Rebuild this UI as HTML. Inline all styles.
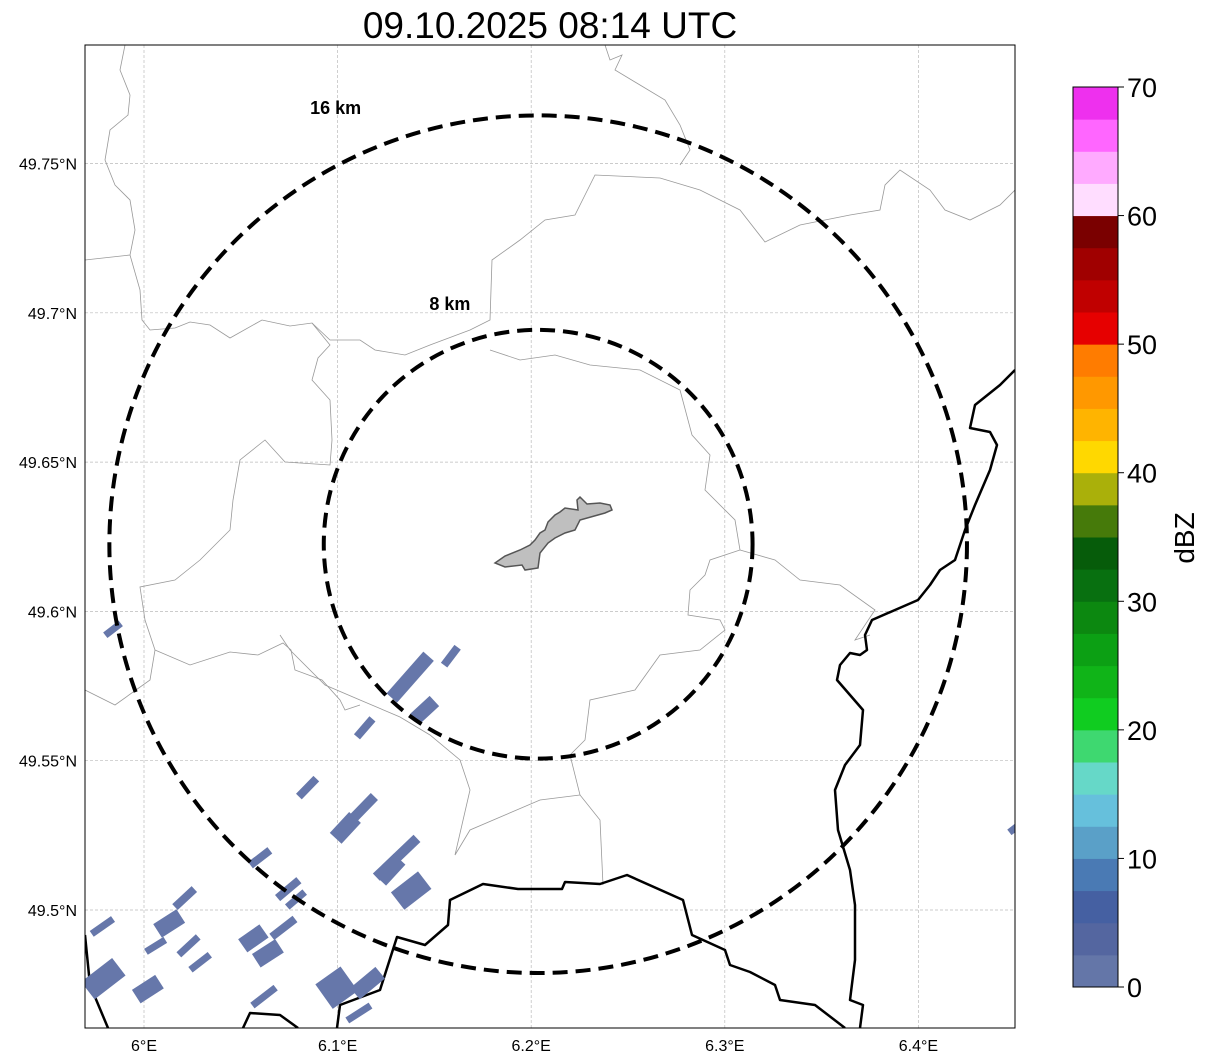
<!DOCTYPE html>
<html><head><meta charset="utf-8"><style>
body{margin:0;background:#fff;width:1207px;height:1064px;overflow:hidden;font-family:"Liberation Sans",sans-serif}
svg{position:absolute;left:0;top:0}
</style></head><body>
<svg id="chart" width="1207" height="1064">
<text x="550" y="38" font-size="37" text-anchor="middle" fill="#000">09.10.2025 08:14 UTC</text>
<defs><clipPath id="mapclip"><rect x="85" y="45" width="930" height="983"/></clipPath></defs>
<g id="grid"></g>
<g clip-path="url(#mapclip)">
<g fill="none" stroke="#999" stroke-width="0.8">
<polyline points="125,45 120,70 130,95 128,115 110,130 105,160 115,185 130,200 135,230 130,255 85,260"/>
<polyline points="130,255 140,290 142,320 150,330 175,328 190,322 210,325 230,338 262,320 290,326 312,323 330,345 318,358 312,380 330,400 332,440 330,465 285,462 265,440 240,460 233,500 230,530 200,560 175,580 140,587 145,620 155,650 150,680 115,705 85,690"/>
<polyline points="312,323 330,340 360,340 375,350 405,355 430,345 470,330 490,320 492,260 520,240 545,220 575,215 595,175 660,178 700,190 740,210 765,242 800,225 850,215 880,210 885,185 900,170 930,190 945,210 970,220 1000,205 1015,190"/>
<polyline points="605,45 610,60 622,55 615,70 640,85 665,100 680,125 690,150 680,165"/>
<polyline points="490,350 520,360 555,355 590,365 640,370 680,390 692,435 710,455 705,490 735,520 740,550 710,560 705,575 690,590 688,615 720,620 725,630 700,650 660,655 635,690 590,700 585,740 570,755 580,795 600,820 603,885"/>
<polyline points="580,795 540,800 505,815 470,830 455,855 470,790 460,760 430,735 400,717 360,700 325,685 290,650 280,635"/>
<polyline points="155,650 190,665 230,652 258,655 283,643 291,650 295,670 322,680 340,700 345,710 360,705"/>
<polyline points="740,550 775,560 800,580 840,585 875,610 855,640 870,635"/>
</g>
<polygon points="495,563 505,556 520,550 530,545 535,540 540,533 545,530 548,522 555,515 560,512 565,508 578,510 577,500 580,497 587,504 600,503 610,505 612,510 605,513 580,520 575,530 565,533 555,538 548,543 540,553 538,568 525,570 522,565 505,567" fill="#bfbfbf" stroke="#555" stroke-width="1.5"/>
<g fill="none" stroke="#000" stroke-width="2.5" stroke-linejoin="round">
<polyline points="243,1028 250,1013 280,1015 298,1028"/>
<polyline points="337,1028 340,1005 380,990 397,937 425,945 448,925 450,900 483,884 518,889 562,889 565,882 600,884 627,875 683,900 692,935 725,950 730,965 750,972 775,985 780,1000 815,1005 845,1028"/>
<polyline points="1015,370 1000,385 975,405 970,428 990,432 997,445 990,470 975,505 965,530 960,545 955,560 940,570 930,585 918,600 895,610 872,620 865,635 867,650 860,655 850,653 840,665 837,680 850,695 863,710 860,745 845,765 835,790 838,830 850,870 855,905 855,960 850,1000 863,1005 860,1028"/>
<polyline points="85,935 90,985 108,1028"/>
</g>
<g id="blobs"></g>
<g id="rings"></g>
</g>
<rect x="85" y="45" width="930" height="983" fill="none" stroke="#000" stroke-width="1"/>
<g id="ticks" font-size="16" fill="#000"></g>
<g id="cbar"></g>
<text transform="translate(1194,538) rotate(-90)" font-size="28" text-anchor="middle">dBZ</text>
</svg>
<script>
const NS='http://www.w3.org/2000/svg';
const lonTicks=[6.0,6.1,6.2,6.3,6.4];
const lonLabels=['6°E','6.1°E','6.2°E','6.3°E','6.4°E'];
const latTicks=[49.5,49.55,49.6,49.65,49.7,49.75];
const latLabels=['49.5°N','49.55°N','49.6°N','49.65°N','49.7°N','49.75°N'];
const ringKm=[8,16];
const ringLabels=['8 km','16 km'];
const ringLabelLon=[6.158,6.099];
const ringLabelLat=[49.701,49.7665];
const centerLon=6.2036, centerLat=49.6225;
const blobLon1=[5.980,6.128,6.155,6.140,6.110,6.080,6.101,6.099,6.120,6.122,6.131,6.055,6.069,6.074,6.051,6.066,6.058,6.016,6.007,5.973,6.001,6.018,6.024,5.971,5.996,6.056,6.093,6.109,6.105,6.447];
const blobLat1=[49.592,49.571,49.582,49.564,49.558,49.538,49.526,49.524,49.511,49.510,49.503,49.515,49.504,49.501,49.488,49.491,49.483,49.501,49.493,49.492,49.486,49.485,49.480,49.473,49.471,49.468,49.471,49.472,49.463,49.526];
const blobLon2=[5.988,6.147,6.162,6.150,6.118,6.089,6.119,6.109,6.141,6.132,6.145,6.065,6.080,6.083,6.062,6.078,6.070,6.026,6.019,5.984,6.011,6.028,6.034,5.987,6.008,6.068,6.106,6.122,6.117,6.451];
const blobLat2=[49.596,49.585,49.588,49.570,49.564,49.544,49.538,49.531,49.524,49.517,49.510,49.520,49.510,49.506,49.493,49.497,49.488,49.507,49.498,49.497,49.490,49.491,49.485,49.481,49.476,49.474,49.477,49.479,49.468,49.528];
const blobWidth=[7,14,8,14,8,8,10,16,10,16,22,8,8,7,16,8,16,8,16,7,7,7,7,22,16,7,30,15,7,7];
const cbValues=[0,2.5,5,7.5,10,12.5,15,17.5,20,22.5,25,27.5,30,32.5,35,37.5,40,42.5,45,47.5,50,52.5,55,57.5,60,62.5,65,67.5];
const cbColors=['#6476a8','#5466a0','#4560a2','#4a7ab4','#5aa0c8','#66c0dc','#66d8c8','#3ed870','#10cc20','#10b418','#0ca014','#0c8810','#087010','#065c0a','#467a0a','#aab00a','#ffd800','#ffb400','#ff9800','#ff7c00','#e60000','#c00000','#a00000','#7a0000','#ffddff','#ffaaff','#ff66ff','#ee30ee'];
const cbTicks=[0,10,20,30,40,50,60,70];

const X=lon=>144+(lon-6)*1936;
const Y=lat=>910-(lat-49.5)*2986;
const kmX=km=>km*26.8, kmY=km=>km*26.8;
const CB=v=>987-v*(900/70);

function mk(tag,attrs,parent){const e=document.createElementNS(NS,tag);for(const k in attrs)e.setAttribute(k,attrs[k]);parent.appendChild(e);return e;}

const grid=document.getElementById('grid'), ticks=document.getElementById('ticks');
lonTicks.forEach((v,i)=>{
  const l=mk('line',{x1:X(v),x2:X(v),y1:45,y2:1028,stroke:'#bbb','stroke-width':0.7,'stroke-dasharray':'3,2'},grid);
  
  
  const t=mk('text',{x:X(v),y:1051,'text-anchor':'middle'},ticks);t.textContent=lonLabels[i];
  
  
});
latTicks.forEach((v,i)=>{
  const l=mk('line',{x1:85,x2:1015,y1:Y(v),y2:Y(v),stroke:'#bbb','stroke-width':0.7,'stroke-dasharray':'3,2'},grid);
  
  
  const t=mk('text',{x:77,y:Y(v)+6,'text-anchor':'end'},ticks);t.textContent=latLabels[i];
  
  
});
const blobs=document.getElementById('blobs');
blobLon1.forEach((v,i)=>{
  const b=mk('line',{x1:X(v),y1:Y(blobLat1[i]),x2:X(blobLon2[i]),y2:Y(blobLat2[i]),stroke:'#6677aa','stroke-width':blobWidth[i],'stroke-linecap':'butt'},blobs);
  
  
});
const rings=document.getElementById('rings');
const cx=X(centerLon), cy=Y(centerLat);
ringKm.forEach((km,i)=>{
  const c=mk('ellipse',{cx:cx,cy:cy,rx:kmX(km),ry:kmY(km),fill:'none',stroke:'#000','stroke-width':4,'stroke-dasharray':'15,8'},rings);
  
  
  const t=mk('text',{x:X(ringLabelLon[i]),y:Y(ringLabelLat[i]),'font-size':18,'font-weight':'bold','text-anchor':'middle'},rings);
  t.textContent=ringLabels[i];
  
  
});
const cb=document.getElementById('cbar');
cbValues.forEach((v,i)=>{
  const r=mk('rect',{x:1073,y:CB(v+2.5),width:45,height:CB(v)-CB(v+2.5)+0.5,fill:cbColors[i]},cb);
  
  
});
mk('rect',{x:1073,y:CB(70),width:45,height:CB(0)-CB(70),fill:'none',stroke:'#000','stroke-width':1},cb);
cbTicks.forEach(v=>{
  mk('line',{x1:1118,x2:1124,y1:CB(v),y2:CB(v),stroke:'#000'},cb);
  const t=mk('text',{x:1127,y:CB(v)+10,'font-size':27},cb);t.textContent=v;
  
  
});
</script>
</body></html>
